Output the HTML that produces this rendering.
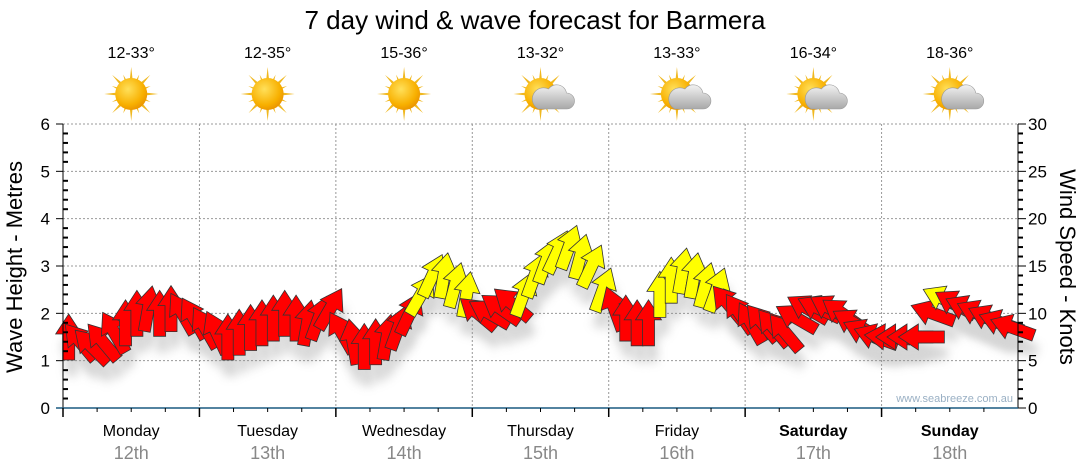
<!DOCTYPE html>
<html><head><meta charset="utf-8">
<style>
body{margin:0;background:#fff;font-family:"Liberation Sans","DejaVu Sans",sans-serif;}
svg{display:block}
</style></head>
<body>
<svg id="chart" width="1080" height="475" viewBox="0 0 1080 475" xmlns="http://www.w3.org/2000/svg">
<defs>
<filter id="sh" x="-50%" y="-50%" width="200%" height="200%"><feGaussianBlur stdDeviation="5"/></filter>
<radialGradient id="sunG" cx="0.4" cy="0.35" r="0.7"><stop offset="0" stop-color="#ffe05a"/><stop offset="0.7" stop-color="#f8b000"/><stop offset="1" stop-color="#e89000"/></radialGradient>
<linearGradient id="cloudG" x1="0" y1="0" x2="0" y2="1"><stop offset="0" stop-color="#f2f2f2"/><stop offset="1" stop-color="#a8a8a8"/></linearGradient>
</defs>
<text x="535" y="29" text-anchor="middle" font-size="26" fill="#000">7 day wind &amp; wave forecast for Barmera</text>
<g id="grid"></g>
<g id="icons"></g>
<g id="shadows" opacity="0.35"></g>
<g id="arrows"></g>
<g id="axes"></g>
<text x="1013" y="402" text-anchor="end" font-size="11" fill="#9ab0c4">www.seabreeze.com.au</text>
<text transform="translate(22,267) rotate(-90)" text-anchor="middle" font-size="22" fill="#000">Wave Height - Metres</text>
<text transform="translate(1060,267) rotate(90)" text-anchor="middle" font-size="22" fill="#000">Wind Speed - Knots</text>
</svg>
<script>
const days=["Monday","Tuesday","Wednesday","Thursday","Friday","Saturday","Sunday"];
const dates=["12th","13th","14th","15th","16th","17th","18th"];
const temps=["12-33°","12-35°","15-36°","13-32°","13-33°","16-34°","18-36°"];
const cloudy=[0,0,0,1,1,1,1];
const waveTicks=[0,1,2,3,4,5,6];
const windTicks=[0,5,10,15,20,25,30];
// wind speed (knots), 2-hourly
const windSpeed=[
7.5,7,6.5,7,8,9,10,10.5,10,10.5,10,9.5,
8.5,8,7.5,8,8.5,9,9.5,10,9.5,9,9.5,10.5,
8,7,6.5,7,7.5,8.5,10,12,14,14,13,12,
10,10,10.5,11,12,14,15.5,16.5,17,16,15,12.5,
10.5,9.5,9,9,12,13.5,14.5,14,13,12.5,11,10,
9,9,8.5,8,9.5,10.5,10.5,10.5,10,9,8,7.5,
7.5,7.5,7.5,7.5,10,11.5,11,10.5,10,9.5,9,8.5];
// arrow pointing direction (deg clockwise from up)
const windDir=[
0,-40,-45,-40,-30,0,0,10,0,0,-30,-30,
-30,-25,0,0,0,0,0,0,0,10,20,30,
-30,-10,0,0,10,20,25,30,25,10,15,10,
-50,-60,-55,-50,20,20,20,25,20,15,25,20,
-20,0,0,0,0,0,10,10,15,20,-40,-35,
-30,-40,-40,-40,-60,-60,-65,-60,-55,-60,-65,-70,
-85,-90,-90,-90,-70,-65,-60,-65,-65,-65,-70,-70];
const X0=63,X1=1018,Y0=408,Y1=124;
const dayW=(X1-X0)/7;
const xs=i=>X0+(i+0.5)*(X1-X0)/windSpeed.length;
const yk=v=>Y0-(v/30)*(Y0-Y1);
const ym=v=>yk(v*5);
const NS="http://www.w3.org/2000/svg";
function mk(tag,attrs,parent){const e=document.createElementNS(NS,tag);for(const k in attrs)e.setAttribute(k,attrs[k]);parent.appendChild(e);return e;}
const grid=document.getElementById('grid'),axes=document.getElementById('axes'),icons=document.getElementById('icons');
waveTicks.forEach(t=>{
  if(t>0){const l=mk('line',{x1:X0,x2:X1,y1:ym(t),y2:ym(t),stroke:'#999','stroke-dasharray':'2,2'},grid);
  
  }
  const tx=mk('text',{x:X0-13,y:ym(t)+6,'text-anchor':'end','font-size':17},axes);tx.textContent=t;
  
  
});
windTicks.forEach(t=>{
  const tx=mk('text',{x:X1+10,y:yk(t)+6,'font-size':17},axes);tx.textContent=t;
  
  
});
for(let k=0;k<=30;k++){
  const y=yk(k);const len=k%5==0?8:5;
  mk('line',{x1:X1,x2:X1+len,y1:y,y2:y,stroke:'#000','stroke-width':k%5==0?1:2},axes);
  if(k%5){mk('line',{x1:X0,x2:X0+5,y1:y,y2:y,stroke:'#000','stroke-width':2},axes);}
  else mk('line',{x1:X0-7,x2:X0,y1:y,y2:y,stroke:'#000'},axes);
}
mk('line',{x1:X0,x2:X0,y1:Y1,y2:Y0,stroke:'#000'},axes);
mk('line',{x1:X1,x2:X1,y1:Y1,y2:Y0,stroke:'#000'},axes);
mk('line',{x1:X0-7,x2:X1,y1:Y0,y2:Y0,stroke:'#1a5a80','stroke-width':1.5},axes);
for(let d=0;d<7;d++){
  const xl=X0+d*dayW,xc=xl+dayW/2;
  if(d>0){const g=mk('line',{x1:xl,x2:xl,y1:Y1,y2:Y0,stroke:'#999','stroke-dasharray':'2,2'},grid);
  
  }
  mk('line',{x1:xl,x2:xl,y1:Y0,y2:Y0+9,stroke:'#000','stroke-width':1.5},axes);
  for(let q=1;q<4;q++)mk('line',{x1:xl+q*dayW/4,x2:xl+q*dayW/4,y1:Y0,y2:Y0+4,stroke:'#000'},axes);
  const dn=mk('text',{x:xc,y:436,'text-anchor':'middle','font-size':16,'font-weight':d>=5?'bold':'normal'},axes);dn.textContent=days[d];
  
  
  const dt=mk('text',{x:xc,y:459,'text-anchor':'middle','font-size':18,fill:'#888'},axes);dt.textContent=dates[d];
  
  
  const tt=mk('text',{x:xc,y:58,'text-anchor':'middle','font-size':16},icons);tt.textContent=temps[d];
  
  
  const ic=mk('g',{transform:`translate(${xc},94)`},icons);
  
  
  for(let r=0;r<16;r++){const a=r*22.5,L=r%2?21:27;mk('polygon',{points:`-3,0 3,0 0,-${L}`,fill:'#f0b820',transform:`rotate(${a})`},ic);}
  mk('circle',{r:16,fill:'url(#sunG)'},ic);
  if(cloudy[d]){const c=mk('g',{transform:'translate(10,6)'},ic);
    mk('path',{d:'M-12,9 h28 a8,8 0 0 0 0,-16 a10,10 0 0 0 -18,-4 a8,8 0 0 0 -10,20z',fill:'url(#cloudG)',stroke:'#999','stroke-width':0.6},c);}
}
const arrowPts="0,-23 13,-3 6,-3 6,23 -6,23 -6,-3 -13,-3";
const ag=document.getElementById('arrows'),sg=document.getElementById('shadows');
windSpeed.forEach((v,i)=>{
  const x=xs(i),y=yk(v),a=windDir[i];
  mk('polygon',{points:arrowPts,fill:'#888',filter:'url(#sh)',transform:`translate(${x+3},${y+16}) rotate(${a})`},sg);
  const p=mk('polygon',{points:arrowPts,fill:v>=11.5?'#ffff00':'#ff0000',stroke:'#333','stroke-width':0.8,transform:`translate(${x},${y}) rotate(${a})`},ag);
  
  
});
</script>
</body></html>
